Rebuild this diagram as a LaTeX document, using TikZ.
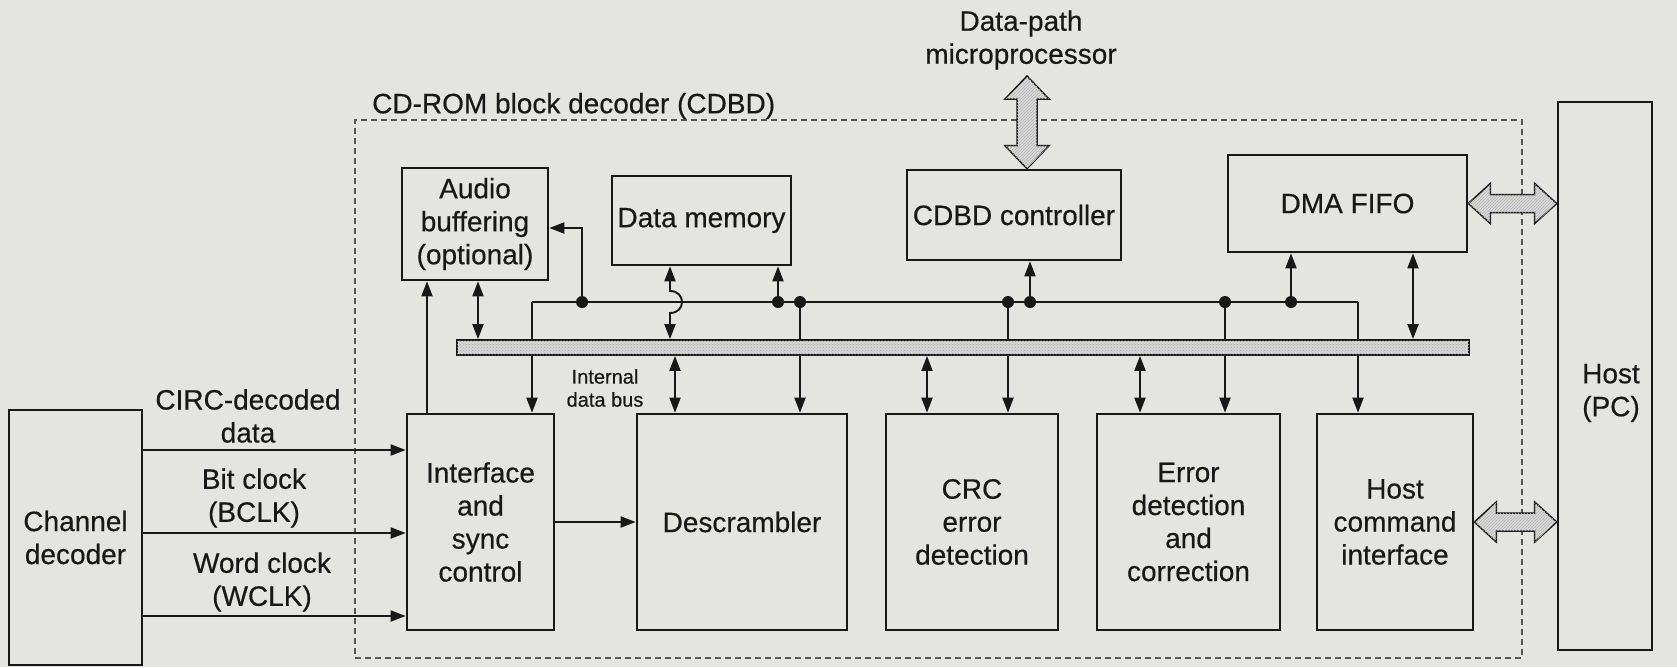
\documentclass[tikz,border=0pt]{standalone}
\usepackage{fontspec}
\setmainfont{Liberation Sans}[FakeBold=0.4]
\usetikzlibrary{arrows.meta,calc,patterns}
\definecolor{paper}{RGB}{228,228,225}
\definecolor{ink}{RGB}{24,24,24}
\definecolor{dashc}{RGB}{85,85,85}
\newcommand\blockfont{\fontsize{28}{33}\selectfont}
\newcommand\busfont{\fontsize{20}{23}\selectfont}

\begin{document}
\begin{tikzpicture}[x=1pt,y=-1pt,
  block/.style={draw=ink,line width=2.6pt,align=center,font=\blockfont,inner sep=0pt,text=ink},
  lbl/.style={align=center,font=\blockfont,inner sep=0pt,text=ink},
  conn/.style={draw=ink,line width=1.9pt},
  >={Triangle[length=15pt,width=11pt]},
  junction/.style={fill=ink},
  fat/.style={draw=ink,line width=1.5pt,fill=black!14,
    postaction={pattern=north east lines,pattern color=black!30}},
  busbar/.style={draw=ink,line width=1.8pt,fill=black!16,inner sep=0pt,
    postaction={pattern=crosshatch dots,pattern color=black!35}},
  region/.style={draw=dashc,line width=1.5pt,dash pattern=on 6pt off 4pt,inner sep=0pt}
]
% page
\fill[paper] (0,0) rectangle (1677,667);
\useasboundingbox (0,0) rectangle (1677,667);

% dashed outline of the block decoder
\node[region,minimum width=1167pt,minimum height=538pt] (cdbd) at (938.5,389) {};
\node[lbl,anchor=west] (title) at (372,106) {CD-ROM block decoder (CDBD)};
\node[lbl] (micro) at (1021,40) {Data-path\\microprocessor};

% blocks
\node[block,minimum width=133pt,minimum height=255pt] (chan) at (75.5,537.5) {Channel\\decoder};
\node[block,minimum width=147pt,minimum height=216pt] (iface) at (480.5,522) {Interface\\and\\sync\\control};
\node[block,minimum width=210pt,minimum height=216pt] (desc) at (742,522) {Descrambler};
\node[block,minimum width=172pt,minimum height=216pt] (crc) at (972,522) {CRC\\error\\detection};
\node[block,minimum width=183pt,minimum height=216pt] (err) at (1188.5,522) {Error\\detection\\and\\correction};
\node[block,minimum width=156pt,minimum height=216pt] (hci) at (1395,522) {Host\\command\\interface};
\node[block,minimum width=146pt,minimum height=112pt] (audio) at (475,224) {Audio\\buffering\\(optional)};
\node[block,minimum width=179pt,minimum height=89pt] (mem) at (701.5,220.5) {Data memory};
\node[block,minimum width=214pt,minimum height=90pt] (ctrl) at (1014,215) {CDBD controller};
\node[block,minimum width=239pt,minimum height=97pt] (dma) at (1347.5,203.5) {DMA FIFO};
\node[block,minimum width=94pt,minimum height=548pt] (host) at (1605,376) {};
\node[lbl] (hostname) at ($(host.center)+(6,17)$) {Host\\(PC)};

% signal labels
\node[lbl] (lcirc) at (248,416) {CIRC-decoded\\data};
\node[lbl] (lbclk) at (254,498) {Bit clock\\(BCLK)};
\node[lbl] (lwclk) at (262,582) {Word clock\\(WCLK)};
\node[lbl,font=\busfont] (lbus) at (605,388) {Internal\\data bus};

% reference points
\coordinate (ya) at (0,450);
\coordinate (yb) at (0,533);
\coordinate (yc) at (0,616);
\coordinate (xa) at (427,0);
\coordinate (xb) at (478,0);
\coordinate (xm) at (670,0);
\coordinate (xd) at (675,0);
\coordinate (xc) at (927,0);
\coordinate (xe) at (1140,0);
\coordinate (xf) at (1413,0);
\coordinate (cl) at (532,302);
\coordinate (cr) at (1358,302);
\coordinate (j1) at (582,302);
\coordinate (j2) at (778,302);
\coordinate (j3) at (800,302);
\coordinate (j4) at (1008,302);
\coordinate (j5) at (1030,302);
\coordinate (j6) at (1225,302);
\coordinate (j7) at (1291,302);
\coordinate (mp) at (1027,76);

% control lines running past the bus
\draw[conn] (cl) -- (cr);
\draw[conn,->] (cl) -- (cl |- iface.north);
\draw[conn,->] (cr) -- (cr |- hci.north);
\draw[conn,->] (j3) -- (j3 |- desc.north);
\draw[conn,->] (j4) -- (j4 |- crc.north);
\draw[conn,->] (j6) -- (j6 |- err.north);

% internal data bus
\node[busbar,minimum width=1012pt,minimum height=15pt] (bus) at (963,347.5) {};

% serial inputs
\draw[conn,->] (chan.east |- ya) -- (iface.west |- ya);
\draw[conn,->] (chan.east |- yb) -- (iface.west |- yb);
\draw[conn,->] (chan.east |- yc) -- (iface.west |- yc);
\draw[conn,->] (iface.east) -- (desc.west);

% audio path
\draw[conn,->] (iface.north -| xa) -- (audio.south -| xa);
\draw[conn,<->] (audio.south -| xb) -- (bus.north -| xb);
\draw[conn,->] (j1) |- ($(audio.east)+(0,4)$);

% memory and controller taps
\draw[conn,<->] (mem.south -| xm) -- ($(xm |- cl)+(0,-11)$)
  .. controls +(16,0) and +(16,0) .. ($(xm |- cl)+(0,11)$) -- (bus.north -| xm);
\draw[conn,->] (j2) -- (j2 |- mem.south);
\draw[conn,->] (j5) -- (j5 |- ctrl.south);
\draw[conn,->] (j7) -- (j7 |- dma.south);

% bus to processing blocks
\draw[conn,<->] (bus.south -| xd) -- (desc.north -| xd);
\draw[conn,<->] (bus.south -| xc) -- (crc.north -| xc);
\draw[conn,<->] (bus.south -| xe) -- (err.north -| xe);
\draw[conn,<->] (dma.south -| xf) -- (bus.north -| xf);

% junction dots
\foreach \j in {j1,j2,j3,j4,j5,j6,j7}
  \fill[junction] (\j) circle[radius=6pt];

% wide data paths
\path[fat] let \p1=(mp), \p2=(ctrl.north -| mp) in
  (\x1,\y1) -- (\x1+22pt,\y1-23pt) -- (\x1+10pt,\y1-23pt) -- (\x1+10pt,\y2+23pt)
  -- (\x1+22pt,\y2+23pt) -- (\x1,\y2) -- (\x1-22pt,\y2+23pt) -- (\x1-10pt,\y2+23pt)
  -- (\x1-10pt,\y1-23pt) -- (\x1-22pt,\y1-23pt) -- cycle;
\path[fat] let \p1=(dma.east), \p2=(host.west |- dma.east) in
  (\x1,\y1) -- (\x1+22pt,\y1+20pt) -- (\x1+22pt,\y1+9pt) -- (\x2-22pt,\y1+9pt)
  -- (\x2-22pt,\y1+20pt) -- (\x2,\y1) -- (\x2-22pt,\y1-20pt) -- (\x2-22pt,\y1-9pt)
  -- (\x1+22pt,\y1-9pt) -- (\x1+22pt,\y1-20pt) -- cycle;
\path[fat] let \p1=(hci.east), \p2=(host.west |- hci.east) in
  (\x1,\y1) -- (\x1+22pt,\y1+20pt) -- (\x1+22pt,\y1+9pt) -- (\x2-22pt,\y1+9pt)
  -- (\x2-22pt,\y1+20pt) -- (\x2,\y1) -- (\x2-22pt,\y1-20pt) -- (\x2-22pt,\y1-9pt)
  -- (\x1+22pt,\y1-9pt) -- (\x1+22pt,\y1-20pt) -- cycle;
\end{tikzpicture}
\end{document}
